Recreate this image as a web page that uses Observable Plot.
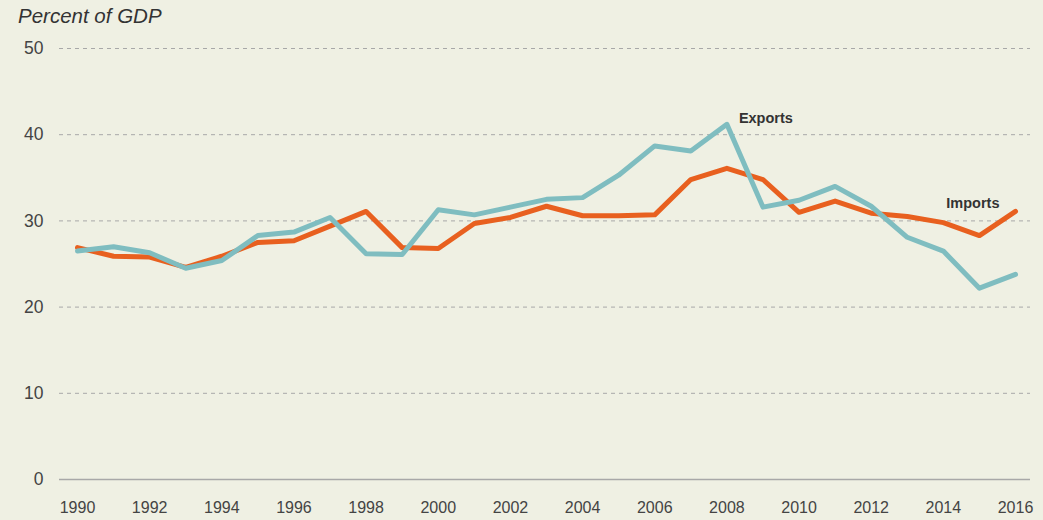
<!DOCTYPE html>
<html>
<head>
<meta charset="utf-8">
<script src="https://cdn.jsdelivr.net/npm/d3@7"></script>
<script src="https://cdn.jsdelivr.net/npm/@observablehq/plot@0.6"></script>
<style>
  html, body { margin: 0; padding: 0; background: #eff0e3; }
  #wrap { position: relative; width: 1043px; height: 520px; background: #eff0e3; }
  #title { position: absolute; left: 18px; top: 4px; font-family: "Liberation Sans", Arial, sans-serif; font-style: italic; font-size: 20.5px; color: #333; }
</style>
</head>
<body>
<div id="wrap">
  <div id="title">Percent of GDP</div>
</div>
<script>
const years = d3.range(1990, 2017);
const imports = [26.9, 25.9, 25.8, 24.6, 25.9, 27.5, 27.7, 29.4, 31.1, 26.9, 26.8, 29.7, 30.4, 31.7, 30.6, 30.6, 30.7, 34.8, 36.1, 34.8, 31.0, 32.3, 30.9, 30.5, 29.8, 28.3, 31.1];
const exportsV = [26.5, 27.0, 26.3, 24.5, 25.4, 28.3, 28.7, 30.4, 26.2, 26.1, 31.3, 30.7, 31.6, 32.5, 32.7, 35.3, 38.7, 38.1, 41.2, 31.6, 32.4, 34.0, 31.7, 28.1, 26.5, 22.2, 23.8];
const yTicks = [0, 10, 20, 30, 40, 50];
const xTicks = d3.range(1990, 2017, 2);
const seriesNames = ["Imports", "Exports"];

const importsData = years.map((y, i) => ({year: y, value: imports[i]}));
const exportsData = years.map((y, i) => ({year: y, value: exportsV[i]}));
const labels = [
  {year: 2008, value: exportsV[years.indexOf(2008)], text: seriesNames[1]},
  {year: 2016, value: imports[years.indexOf(2016)], text: seriesNames[0]}
];

const chart = Plot.plot({
  width: 1043,
  height: 520,
  marginTop: 48,
  marginBottom: 41,
  marginLeft: 59,
  marginRight: 13,
  style: {background: "#eff0e3", fontFamily: "Liberation Sans, Arial, sans-serif", color: "#444"},
  x: {domain: [1990, 2016], insetLeft: 18, insetRight: 15, label: null},
  y: {domain: [0, 50], label: null},
  marks: [
    Plot.ruleY(yTicks.filter(d => d > 0), {stroke: "#a8a8a8", strokeDasharray: "4,4", strokeWidth: 1}),
    Plot.ruleY([0], {stroke: "#a8a8a8", strokeWidth: 1.5}),
    Plot.axisY(yTicks, {tickSize: 0, tickPadding: 16, fontSize: 17.5, label: null, fill: "#444"}),
    Plot.axisX(xTicks, {tickSize: 0, tickPadding: 22, fontSize: 16, label: null, tickFormat: d => String(d), fill: "#444"}),
    Plot.line(importsData, {x: "year", y: "value", stroke: "#e8601f", strokeWidth: 5}),
    Plot.line(exportsData, {x: "year", y: "value", stroke: "#7fbdc0", strokeWidth: 5}),
    Plot.text(labels.slice(0, 1), {x: "year", y: "value", text: "text", textAnchor: "start", dx: 12, dy: -6, fontSize: 14.5, fontWeight: 600, fill: "#333"}),
    Plot.text(labels.slice(1), {x: "year", y: "value", text: "text", textAnchor: "end", dx: -16, dy: -8, fontSize: 14.5, fontWeight: 600, fill: "#333"})
  ]
});
chart.style.position = "absolute";
chart.style.left = "0px";
chart.style.top = "0px";
document.getElementById("wrap").prepend(chart);
</script>
</body>
</html>
